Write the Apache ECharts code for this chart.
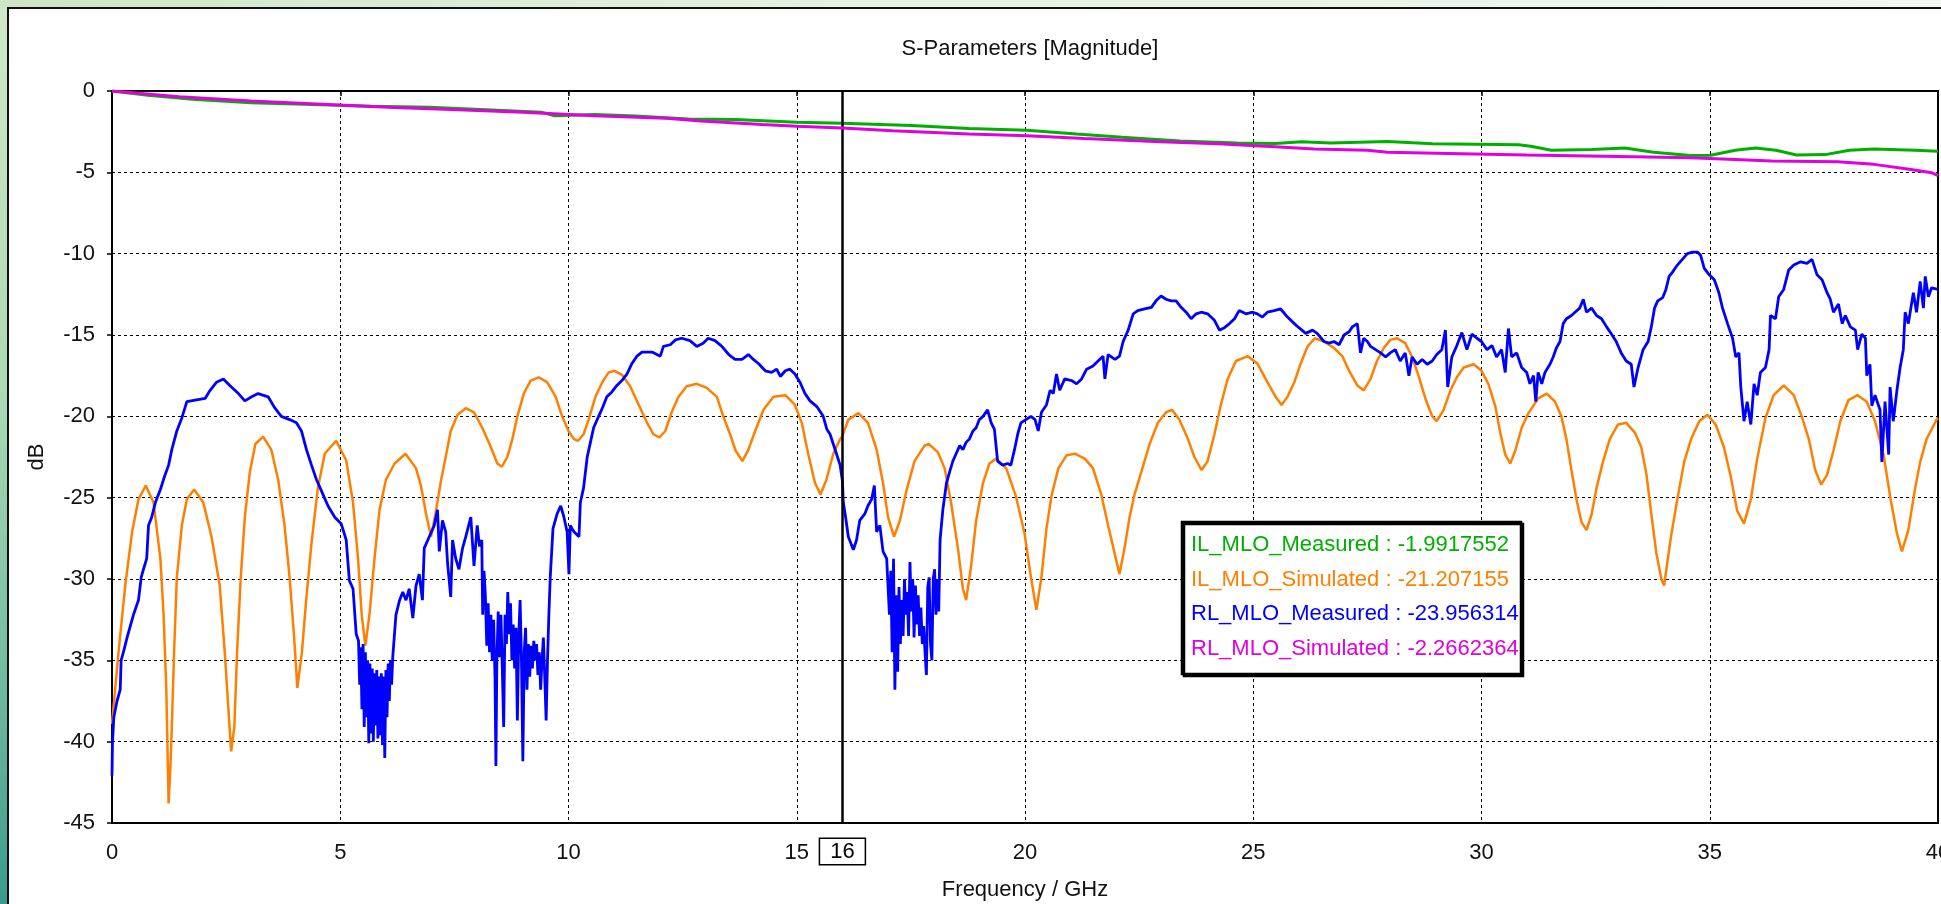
<!DOCTYPE html>
<html>
<head>
<meta charset="utf-8">
<title>S-Parameters [Magnitude]</title>
<script src="https://cdn.jsdelivr.net/npm/echarts@6/dist/echarts.min.js"></script>
<style>
    html, body {margin: 0; padding: 0; width: 1941px; height: 904px; overflow: hidden;}
    #frame {position: absolute; left: 0; top: 0; width: 1941px; height: 904px;
        background: linear-gradient(to bottom, #d0e8c9 0%, #a9d9b4 45%, #72bba0 75%, #3a9b8e 100%);}
    #topstrip {position: absolute; left: 0; top: 0; width: 1941px; height: 8px;
        background: linear-gradient(to right, #cde6c5 0%, #e3f1df 40%, #f1f8ef 100%);}
    #panel {position: absolute; left: 7px; top: 7px; right: 0; bottom: 0; background: #fff;
        border-left: 2px solid #111; border-top: 2px solid #111;}
    #chart {position: absolute; left: 0; top: 0; width: 1941px; height: 904px;}
</style>
</head>
<body>
<div id="frame"></div>
<div id="topstrip"></div>
<div id="panel"></div>
<div id="chart"></div>
<script>
    // values, frequency in GHz, magnitude in dB
    var ilMeasFreq = [0, 0.79, 1.76, 3.04, 4.4, 5.68, 6.95, 8.32, 9.4, 9.7, 10.58, 11.46, 12.63, 13.66, 15.0, 16.0,
        17.51, 18.77, 20.04, 21.13, 22.13, 23.39, 24.64, 25.48, 26.06, 26.69, 27.94, 28.93, 30.81, 31.08, 31.53,
        32.42, 33.14, 33.77, 34.58, 35.02, 35.56, 36.0, 36.45, 36.9, 37.53, 38.06, 38.6, 39.5, 40];
    var ilMeasDb = [0, -0.26, -0.5, -0.73, -0.83, -0.93, -1.0, -1.17, -1.3, -1.52, -1.44, -1.54, -1.72, -1.75, -1.92, -1.99,
        -2.12, -2.3, -2.42, -2.65, -2.85, -3.08, -3.2, -3.22, -3.12, -3.2, -3.1, -3.24, -3.3, -3.4, -3.64,
        -3.6, -3.5, -3.76, -3.97, -3.95, -3.64, -3.5, -3.64, -3.93, -3.91, -3.64, -3.56, -3.64, -3.7];

    var rlSimFreq = [0, 1.47, 3.04, 4.6, 6.17, 7.44, 9.01, 10.58, 12.14, 12.9, 14.24, 15.0, 16.0, 17.1, 18.77, 20.04,
        21.3, 22.97, 24.23, 25.48, 26.33, 27.5, 27.94, 29.56, 30.99, 32.69, 34.58, 35.56, 36.36, 37.8, 38.6,
        39.41, 39.86, 40];
    var rlSimDb = [0, -0.36, -0.61, -0.81, -1.01, -1.13, -1.3, -1.52, -1.68, -1.85, -2.06, -2.17, -2.27, -2.45, -2.65, -2.75,
        -2.92, -3.12, -3.24, -3.42, -3.56, -3.64, -3.76, -3.85, -3.93, -4.01, -4.11, -4.21, -4.31, -4.35, -4.51,
        -4.82, -5.02, -5.2];

    var ilSimFreq = [0, 0.15, 0.29, 0.44, 0.58, 0.74, 0.91, 1.06, 1.13, 1.19, 1.24, 1.28, 1.31, 1.36, 1.42, 1.53, 1.64, 1.8,
        2.0, 2.18, 2.36, 2.47, 2.55, 2.61, 2.68, 2.74, 2.82, 2.91, 3.02, 3.14, 3.31, 3.49, 3.64, 3.78, 3.89, 3.99,
        4.06, 4.16, 4.26, 4.37, 4.51, 4.66, 4.91, 5.13, 5.28, 5.39, 5.47, 5.55, 5.64, 5.75, 5.86, 6.0, 6.19, 6.43,
        6.66, 6.77, 6.88, 6.99, 7.1, 7.21, 7.31, 7.42, 7.57, 7.75, 7.93, 8.11, 8.3, 8.44, 8.54, 8.66, 8.77, 8.88,
        9.02, 9.17, 9.35, 9.53, 9.72, 9.86, 10.0, 10.12, 10.21, 10.33, 10.44, 10.59, 10.74, 10.88, 11.01, 11.17,
        11.35, 11.54, 11.72, 11.86, 11.99, 12.12, 12.26, 12.41, 12.59, 12.81, 13.03, 13.25, 13.39, 13.54, 13.66,
        13.81, 13.94, 14.09, 14.27, 14.49, 14.75, 14.96, 15.11, 15.25, 15.4, 15.52, 15.65, 15.8, 15.95, 16.0,
        16.13, 16.35, 16.56, 16.75, 16.89, 17.0, 17.13, 17.26, 17.4, 17.58, 17.8, 17.89, 18.09, 18.24, 18.38,
        18.53, 18.64, 18.71, 18.82, 18.93, 19.08, 19.22, 19.37, 19.59, 19.8, 19.99, 20.13, 20.25, 20.36, 20.47,
        20.58, 20.73, 20.91, 21.09, 21.31, 21.49, 21.67, 21.82, 21.97, 22.07, 22.18, 22.29, 22.4, 22.55, 22.73,
        22.91, 23.09, 23.22, 23.38, 23.57, 23.71, 23.87, 24.0, 24.15, 24.29, 24.44, 24.62, 24.88, 25.09, 25.31,
        25.49, 25.62, 25.75, 25.9, 26.04, 26.19, 26.35, 26.55, 26.77, 26.95, 27.1, 27.28, 27.42, 27.57, 27.71,
        27.86, 28.0, 28.15, 28.33, 28.48, 28.62, 28.77, 28.92, 29.02, 29.17, 29.32, 29.46, 29.61, 29.83, 30.0,
        30.15, 30.3, 30.41, 30.52, 30.63, 30.74, 30.88, 31.03, 31.24, 31.43, 31.61, 31.75, 31.86, 31.97, 32.08,
        32.19, 32.3, 32.41, 32.52, 32.66, 32.81, 32.99, 33.17, 33.36, 33.5, 33.61, 33.72, 33.83, 33.94, 34.0,
        34.15, 34.29, 34.44, 34.59, 34.77, 34.95, 35.13, 35.31, 35.46, 35.6, 35.75, 35.9, 36.04, 36.22, 36.4,
        36.62, 36.84, 37.02, 37.17, 37.31, 37.44, 37.57, 37.71, 37.86, 38.04, 38.24, 38.44, 38.62, 38.81, 38.95,
        39.1, 39.21, 39.35, 39.5, 39.61, 39.75, 39.97, 40];
    var ilSimDb = [-38.9, -34.3, -30.4, -27.1, -25.1, -24.25, -25.3, -28.75, -32.2, -36.8, -43.8, -41.5, -39.1, -34.5, -29.9, -26.7, -25.1, -24.5,
        -25.3, -27.4, -30.4, -34.5, -38.0, -40.6, -39.1, -34.5, -29.9, -26.2, -23.4, -21.7, -21.25, -22.05, -23.9, -26.7, -29.9, -33.6,
        -36.7, -34.5, -31.1, -27.8, -24.4, -22.3, -21.5, -22.7, -25.3, -28.75, -32.2, -34.1, -32.2, -28.75, -25.75, -23.9, -22.9, -22.3,
        -23.2, -24.3, -26.0, -27.4, -25.75, -23.9, -22.5, -20.9, -19.9, -19.5, -19.75, -20.7, -21.9, -22.9, -23.1, -22.5, -21.4, -20.0,
        -18.6, -17.8, -17.6, -17.9, -18.8, -20.0, -20.9, -21.4, -21.5, -21.1, -20.2, -18.8, -17.9, -17.3, -17.2, -17.45,
        -18.15, -19.3, -20.4, -21.1, -21.3, -20.9, -19.75, -18.8, -18.15, -18.0, -18.25, -18.8, -20.0, -21.1, -22.1,
        -22.75, -22.05, -20.9, -19.6, -18.8, -18.7, -19.3, -20.4, -22.3, -24.1, -24.8, -23.9, -22.3, -21.4, -21.2,
        -20.2, -19.8, -20.4, -22.05, -24.1, -26.2, -27.4, -26.4, -24.6, -22.75, -21.8, -21.7, -22.2, -23.2, -25.3,
        -28.1, -30.6, -31.3, -29.2, -26.4, -24.1, -22.9, -22.6, -23.2, -24.9, -27.2, -29.9, -31.9, -29.9, -26.9,
        -24.9, -23.2, -22.4, -22.3, -22.6, -23.2, -24.8, -26.7, -28.5, -29.7, -28.1, -26.2, -24.8, -23.4, -21.7,
        -20.4, -19.75, -19.6, -20.2, -21.4, -22.5, -23.3, -22.75, -21.1, -19.3, -17.7, -16.6, -16.3, -16.75, -17.9,
        -18.8, -19.3, -18.8, -17.9, -16.75, -15.7, -15.2, -15.4, -15.8, -16.3, -17.2, -18.1, -18.4, -17.7, -16.6,
        -15.8, -15.3, -15.2, -15.5, -16.35, -17.5, -18.9, -20.0, -20.3, -19.6, -18.4, -17.6, -17.0, -16.8, -17.2,
        -18.0, -19.35, -21.0, -22.35, -22.9, -22.1, -20.7, -19.8, -18.9, -18.6, -19.1, -20.0, -21.4, -23.3, -25.1,
        -26.5, -27.0, -26.05, -24.4, -22.8, -21.4, -20.5, -20.4, -21.0, -21.9, -23.5, -26.0, -28.4, -30.0, -30.4,
        -27.4, -25.1, -22.8, -21.4, -20.3, -19.9, -20.5, -21.9, -23.7, -25.8, -26.6, -25.1, -22.6, -20.1, -18.7,
        -18.1, -18.7, -20.05, -21.4, -23.3, -24.2, -23.6, -22.1, -20.3, -19.0, -18.7, -19.1, -20.3, -22.4, -24.9,
        -27.2, -28.3, -27.0, -24.4, -22.8, -21.4, -20.2, -20.1];

    // RL measured is noisy, kept as [GHz, dB] pairs in frequency bands
    var rlMeasLow = [[0, -42.1], [0.01, -40.1], [0.04, -38.5], [0.11, -37.5], [0.18, -36.8], [0.2, -35.0], [0.25, -34.5],
        [0.33, -33.6], [0.4, -32.9], [0.47, -32.2], [0.58, -31.3], [0.64, -29.9], [0.69, -29.4], [0.76, -28.75], [0.8, -26.7],
        [0.87, -26.2], [0.95, -25.3], [1.06, -24.5], [1.15, -23.7], [1.24, -23.0], [1.31, -22.05], [1.42, -20.9], [1.53, -20.1],
        [1.64, -19.1], [1.82, -19.0], [2.04, -18.9], [2.15, -18.4], [2.29, -17.9], [2.44, -17.7], [2.58, -18.1], [2.77, -18.6],
        [2.91, -19.05], [3.06, -18.8], [3.2, -18.6], [3.42, -18.8], [3.57, -19.5], [3.71, -20.0], [3.89, -20.2], [4.04, -20.4],
        [4.15, -20.9], [4.26, -22.05], [4.37, -23.0], [4.48, -23.9], [4.59, -24.6], [4.73, -25.5], [4.88, -26.2], [5.02, -26.6],
        [5.13, -27.6], [5.2, -30.1], [5.28, -30.6], [5.35, -33.4],
        [5.4, -33.8], [5.425, -36.5], [5.45, -34.2], [5.475, -38.0], [5.5, -34.0], [5.525, -39.1], [5.55, -34.5], [5.575, -38.5],
        [5.6, -35.0], [5.625, -40.1], [5.65, -35.2], [5.675, -39.5], [5.7, -35.5], [5.725, -40.0], [5.75, -35.8], [5.775, -39.0],
        [5.8, -35.6], [5.825, -39.8], [5.85, -36.0], [5.875, -39.6], [5.9, -35.8], [5.925, -40.2], [5.95, -36.0], [5.975, -41.0],
        [6.0, -35.6], [6.025, -38.5], [6.05, -35.2], [6.075, -37.5], [6.1, -35.0], [6.125, -36.5], [6.15, -34.8],
        [6.22, -32.2], [6.3, -31.3], [6.37, -30.8], [6.44, -31.3], [6.51, -30.6], [6.59, -32.4], [6.66, -30.4], [6.73, -29.7],
        [6.8, -31.3], [6.84, -28.1], [6.95, -27.4], [7.06, -26.7], [7.13, -25.75], [7.17, -28.3], [7.24, -26.4], [7.31, -27.1],
        [7.35, -29.0], [7.42, -31.1], [7.46, -27.6], [7.53, -28.75], [7.6, -29.4], [7.68, -28.1], [7.75, -27.4], [7.86, -26.2],
        [7.93, -29.2], [8.0, -26.7], [8.05, -28.0],
        [8.1, -27.6], [8.12, -32.2], [8.15, -29.5], [8.18, -31.1], [8.21, -34.1], [8.24, -31.5], [8.27, -34.5], [8.3, -32.2],
        [8.33, -35.0], [8.36, -32.5], [8.39, -36.0], [8.41, -41.5], [8.43, -35.2], [8.46, -32.0], [8.49, -34.8], [8.52, -32.2],
        [8.55, -35.5], [8.58, -39.1], [8.61, -32.2], [8.64, -34.0], [8.67, -30.8], [8.7, -33.4], [8.73, -31.5], [8.76, -35.0],
        [8.79, -32.8], [8.82, -35.5], [8.85, -33.0], [8.88, -38.7], [8.91, -33.5], [8.94, -31.3], [8.97, -35.0], [9.0, -41.2],
        [9.03, -34.5], [9.06, -33.0], [9.09, -36.8], [9.12, -34.0], [9.15, -36.0], [9.18, -34.1], [9.21, -35.5], [9.24, -33.8],
        [9.27, -35.0], [9.3, -34.0], [9.33, -35.9], [9.36, -34.5], [9.39, -36.8], [9.42, -35.0], [9.45, -33.6], [9.48, -36.0],
        [9.51, -38.7], [9.54, -35.0], [9.57, -32.2], [9.6, -29.9]];
    var rlMeasMid = [[9.66, -26.9], [9.75, -26.0], [9.83, -25.5], [9.9, -26.2], [9.97, -27.1], [10.01, -29.7], [10.04, -26.7],
        [10.12, -27.1], [10.23, -27.4], [10.26, -25.3], [10.33, -24.4], [10.41, -22.5], [10.48, -21.6], [10.55, -20.7], [10.66, -20.0],
        [10.74, -19.5], [10.84, -18.8], [10.95, -18.5], [11.06, -18.1], [11.17, -17.8], [11.28, -17.4], [11.39, -16.75], [11.5, -16.3],
        [11.61, -16.05], [11.83, -16.05], [12.01, -16.3], [12.08, -15.7], [12.23, -15.6], [12.34, -15.3], [12.48, -15.2], [12.66, -15.35],
        [12.81, -15.7], [12.95, -15.5], [13.06, -15.2], [13.21, -15.35], [13.36, -15.7], [13.51, -16.2], [13.65, -16.5], [13.8, -16.5],
        [13.94, -16.2], [14.05, -16.5], [14.16, -16.75], [14.31, -17.2], [14.45, -17.3], [14.56, -17.1], [14.64, -17.55], [14.75, -17.2],
        [14.85, -17.1], [14.96, -17.4], [15.07, -17.9], [15.18, -18.6], [15.29, -19.05], [15.44, -19.4], [15.58, -20.0], [15.66, -20.8],
        [15.73, -21.1], [15.8, -21.7], [15.87, -22.3], [15.95, -23.0], [16.0, -23.96], [16.02, -25.3], [16.06, -26.0], [16.13, -27.4],
        [16.24, -28.2], [16.31, -27.6], [16.38, -26.4], [16.49, -26.0], [16.56, -25.5], [16.64, -25.1], [16.7, -24.25], [16.75, -27.1],
        [16.82, -26.7], [16.89, -28.3], [16.97, -28.75],
        [17.0, -28.75], [17.03, -32.2], [17.06, -29.5], [17.09, -34.5], [17.12, -28.75], [17.15, -36.8], [17.18, -31.0], [17.21, -35.7],
        [17.24, -30.5], [17.27, -34.0], [17.3, -31.3], [17.33, -33.5], [17.36, -30.0], [17.39, -32.2], [17.42, -30.8], [17.45, -33.5],
        [17.48, -28.95], [17.51, -32.0], [17.54, -30.0], [17.57, -33.6], [17.6, -30.4], [17.63, -32.8], [17.66, -31.0], [17.69, -33.5],
        [17.72, -31.75], [17.75, -34.0], [17.78, -32.9], [17.81, -34.5], [17.84, -35.9], [17.87, -30.5], [17.9, -29.9], [17.93, -34.0],
        [17.96, -35.0], [17.99, -30.0], [18.02, -29.4], [18.05, -32.2], [18.08, -30.0], [18.11, -32.0], [18.14, -27.6],
        [18.2, -25.75], [18.28, -24.1], [18.35, -23.4], [18.42, -22.75], [18.49, -22.3], [18.57, -21.8], [18.64, -22.05], [18.71, -21.6],
        [18.78, -21.4], [18.86, -20.9], [18.93, -20.7], [19.0, -20.2], [19.08, -20.0], [19.18, -19.6], [19.26, -20.4], [19.33, -20.8],
        [19.4, -22.75], [19.51, -23.0], [19.62, -22.9], [19.69, -23.0], [19.77, -22.05], [19.84, -21.1], [19.91, -20.4], [20.02, -20.2],
        [20.13, -20.0], [20.22, -20.2], [20.29, -20.9], [20.36, -19.75], [20.47, -19.3], [20.55, -18.4], [20.62, -18.6], [20.69, -17.4],
        [20.76, -18.4], [20.87, -17.7], [21.02, -17.8], [21.13, -18.0], [21.24, -17.7], [21.35, -17.1], [21.49, -16.9], [21.6, -16.6],
        [21.71, -16.3], [21.75, -17.7], [21.82, -16.2], [21.97, -16.5], [22.07, -16.3], [22.15, -15.4], [22.26, -14.7], [22.37, -13.7],
        [22.47, -13.5], [22.62, -13.4], [22.77, -13.3], [22.87, -12.9], [22.98, -12.6], [23.09, -12.8], [23.2, -12.9], [23.31, -12.9],
        [23.42, -13.3], [23.53, -13.6], [23.64, -14.0], [23.75, -13.7], [23.86, -13.6], [24.0, -13.7], [24.15, -14.1], [24.26, -14.7],
        [24.37, -14.55], [24.48, -14.3], [24.59, -14.0], [24.69, -13.5], [24.84, -13.7], [24.99, -13.6], [25.09, -13.7], [25.2, -13.9],
        [25.31, -13.6], [25.46, -13.5], [25.6, -13.4], [25.75, -13.9], [25.9, -14.3], [26.0, -14.55], [26.15, -14.9], [26.3, -14.7]];
    var rlMeasHigh = [[26.4, -14.9], [26.55, -15.4], [26.66, -15.5], [26.77, -15.4], [26.88, -15.6], [26.99, -15.0], [27.1, -14.8],
        [27.17, -14.5], [27.28, -14.3], [27.35, -16.1], [27.42, -15.2], [27.5, -15.4], [27.57, -15.7], [27.68, -15.9], [27.79, -16.1],
        [27.9, -16.35], [28.0, -16.1], [28.11, -15.9], [28.22, -16.6], [28.33, -16.1], [28.41, -17.5], [28.48, -16.35], [28.59, -16.8],
        [28.7, -16.5], [28.81, -16.8], [28.92, -16.6], [29.02, -16.2], [29.13, -15.9], [29.21, -14.7], [29.26, -18.2], [29.35, -16.35],
        [29.46, -15.65], [29.57, -14.85], [29.68, -15.9], [29.79, -14.95], [29.9, -15.2], [30.0, -15.4], [30.12, -15.9], [30.23, -15.65],
        [30.33, -16.35], [30.44, -15.9], [30.52, -17.3], [30.59, -14.6], [30.66, -16.35], [30.77, -16.1], [30.88, -17.0], [30.99, -17.3],
        [31.06, -18.0], [31.14, -17.5], [31.19, -19.1], [31.24, -17.3], [31.32, -18.0], [31.39, -17.3], [31.5, -16.8], [31.57, -16.35],
        [31.64, -15.8], [31.72, -15.4], [31.79, -14.3], [31.86, -14.0], [31.97, -13.8], [32.05, -13.6], [32.15, -13.35], [32.23, -12.8],
        [32.3, -13.6], [32.41, -13.35], [32.52, -13.8], [32.63, -14.0], [32.74, -14.5], [32.85, -14.95], [32.95, -15.4], [33.06, -16.1],
        [33.17, -16.6], [33.28, -16.8], [33.34, -18.2], [33.43, -17.0], [33.54, -15.9], [33.65, -15.4], [33.72, -14.5], [33.79, -13.35],
        [33.86, -12.9], [33.97, -12.7], [34.04, -12.2], [34.11, -11.4], [34.18, -11.15], [34.29, -10.7], [34.4, -10.35], [34.51, -10.0],
        [34.62, -9.9], [34.73, -9.9], [34.8, -10.1], [34.88, -10.9], [34.99, -11.3], [35.1, -11.6], [35.2, -12.4], [35.28, -13.35],
        [35.39, -14.3], [35.5, -15.2], [35.57, -16.35], [35.64, -16.1], [35.68, -18.2], [35.75, -20.3], [35.82, -19.1], [35.9, -20.5],
        [35.97, -18.0], [36.04, -18.7], [36.11, -17.3], [36.22, -17.0], [36.3, -15.9], [36.33, -13.8], [36.44, -14.0], [36.51, -12.65],
        [36.62, -12.2], [36.73, -11.0], [36.84, -10.7], [36.99, -10.5], [37.13, -10.6], [37.24, -10.35], [37.35, -11.3], [37.46, -11.6],
        [37.57, -12.4], [37.64, -12.8], [37.71, -13.6], [37.82, -13.1], [37.9, -14.3], [37.97, -13.8], [38.08, -14.5], [38.19, -14.7],
        [38.24, -15.9], [38.33, -14.95], [38.41, -15.2], [38.44, -17.5], [38.51, -16.8], [38.55, -19.35], [38.62, -18.7], [38.73, -19.6],
        [38.77, -22.8], [38.84, -19.1], [38.92, -22.35], [38.95, -18.2], [39.02, -20.3], [39.1, -18.4], [39.17, -17.0], [39.24, -15.9],
        [39.28, -13.6], [39.35, -14.3], [39.46, -12.4], [39.53, -13.6], [39.61, -11.7], [39.68, -13.35], [39.72, -11.4], [39.79, -12.65],
        [39.86, -12.1], [40, -12.2]];

    var seriesNames = ['IL_MLO_Measured', 'IL_MLO_Simulated', 'RL_MLO_Measured', 'RL_MLO_Simulated'];
    var seriesColors = ['#00b000', '#ff8000', '#0000ff', '#e000e0'];
    var markerFreq = 16;
    var markerValues = ['-1.9917552', '-21.207155', '-23.956314', '-2.2662364'];

    function pairs(xs, ys) {
        var out = [];
        for (var i = 0; i < xs.length; i++) out.push([xs[i], ys[i]]);
        return out;
    }

    var font = "'Liberation Sans', Arial, sans-serif";
    var chart = echarts.init(document.getElementById('chart'));

    var curves = [
        pairs(ilMeasFreq, ilMeasDb),
        pairs(ilSimFreq, ilSimDb),
        rlMeasLow.concat(rlMeasMid, rlMeasHigh),
        pairs(rlSimFreq, rlSimDb)
    ];
    var widths = [3, 2.5, 2.8, 3];

    var series = seriesNames.map(function (name, i) {
        return {
            name: name,
            type: 'line',
            data: curves[i],
            showSymbol: false,
            symbol: 'none',
            animation: false,
            lineStyle: {color: seriesColors[i], width: widths[i]},
            z: 2 + i
        };
    });

    // vertical marker at 16 GHz with its boxed label below the axis
    series[0].markLine = {
        silent: true,
        symbol: ['none', 'none'],
        animation: false,
        lineStyle: {color: '#000', width: 2.5, type: 'solid'},
        label: {
            show: true,
            position: 'start',
            formatter: String(markerFreq),
            color: '#000',
            fontFamily: font,
            fontSize: 22,
            backgroundColor: '#fff',
            borderColor: '#000',
            borderWidth: 1.5,
            padding: [2, 10, 1, 10],
            distance: 16
        },
        data: [{xAxis: markerFreq}]
    };

    // readout box
    var readout = [{
        type: 'rect',
        shape: {x: 1182, y: 522, width: 339, height: 152},
        style: {fill: '#fff', stroke: '#000', lineWidth: 2.5,
            shadowColor: '#000', shadowOffsetX: 2, shadowOffsetY: 2, shadowBlur: 0},
        z: 100
    }];
    var rowY = [545, 580, 614, 649];
    seriesNames.forEach(function (name, i) {
        readout.push({
            type: 'text',
            x: 1191,
            y: rowY[i],
            style: {text: name + ' : ' + markerValues[i], fill: seriesColors[i],
                font: '22px ' + font, textVerticalAlign: 'middle'},
            z: 101
        });
    });

    var option = {
        animation: false,
        title: {
            text: 'S-Parameters [Magnitude]',
            left: 1025,
            top: 33,
            textAlign: 'center',
            textStyle: {color: '#111', fontFamily: font, fontSize: 22, fontWeight: 'normal'}
        },
        grid: {
            left: 112, top: 91, right: 3, bottom: 81,
            outerBoundsMode: 'none',
            containLabel: false,
            show: true, borderColor: '#000', borderWidth: 2
        },
        xAxis: {
            type: 'value',
            min: 0, max: 40, interval: 5,
            name: 'Frequency / GHz',
            nameLocation: 'middle',
            nameGap: 56,
            nameTextStyle: {color: '#111', fontFamily: font, fontSize: 22},
            axisLine: {lineStyle: {color: '#000', width: 2}},
            axisTick: {show: true, length: 5, lineStyle: {color: '#000', width: 1.5}},
            axisLabel: {color: '#111', fontFamily: font, fontSize: 22, margin: 19, showMaxLabel: true, hideOverlap: false},
            splitLine: {show: true, lineStyle: {color: '#000', width: 1, type: [3, 3]}}
        },
        yAxis: {
            type: 'value',
            min: -45, max: 0, interval: 5,
            name: 'dB',
            nameLocation: 'middle',
            nameGap: 64,
            nameRotate: 90,
            nameTextStyle: {color: '#111', fontFamily: font, fontSize: 22},
            axisLine: {show: true, lineStyle: {color: '#000', width: 2}},
            axisTick: {show: true, length: 5, lineStyle: {color: '#000', width: 1.5}},
            axisLabel: {color: '#111', fontFamily: font, fontSize: 22, margin: 17},
            splitLine: {show: true, lineStyle: {color: '#000', width: 1, type: [3, 3]}}
        },
        series: series,
        graphic: readout
    };

    chart.setOption(option);
</script>
</body>
</html>
